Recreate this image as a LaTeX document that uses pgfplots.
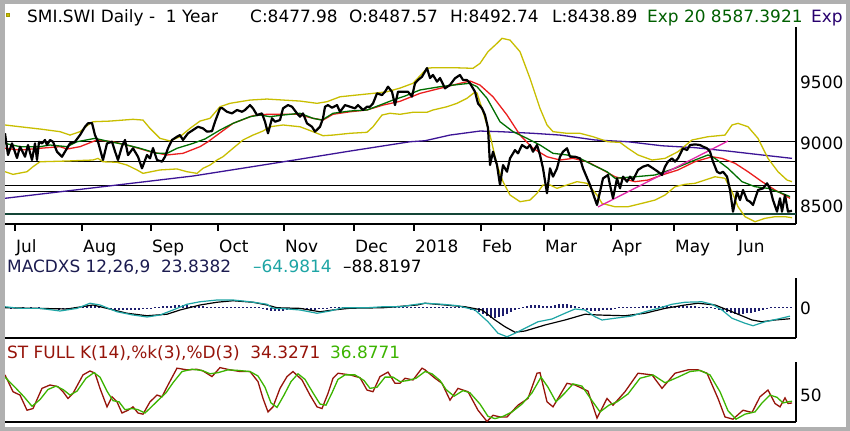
\documentclass[border=0pt]{standalone}
\usepackage{fontspec}
\setmainfont{DejaVu Sans}
\usepackage{pgfplots}
\pgfplotsset{compat=1.18}
\definecolor{framegray}{RGB}{176,176,176}
\definecolor{emagreen}{RGB}{0,110,0}
\definecolor{redma}{RGB}{235,30,30}
\definecolor{boll}{RGB}{200,190,0}
\definecolor{maline}{RGB}{60,20,150}
\definecolor{trendc}{RGB}{225,40,170}
\definecolor{hlinedark}{RGB}{20,70,55}
\definecolor{macdteal}{RGB}{30,165,165}
\definecolor{barcol}{RGB}{30,30,110}
\definecolor{kred}{RGB}{150,20,10}
\definecolor{dgreen}{RGB}{60,180,0}
\definecolor{navytxt}{RGB}{28,28,80}
\definecolor{exptxt}{RGB}{0,95,0}
\definecolor{exp2txt}{RGB}{40,0,110}
\pgfplotsset{panel/.style={anchor=south west, scale only axis, width=791bp, xmin=5, xmax=796,
  axis x line*=bottom, axis y line*=right, axis line style={line width=1.8bp,-},
  ytick=\empty, clip=true}}
\begin{document}
\begin{tikzpicture}[font=\fontsize{17}{20}\selectfont]
\fill[framegray] (0,0) rectangle (850bp,431bp);
\fill[white] (5bp,4bp) rectangle (846bp,427bp);
% ---------------- main price panel
\begin{axis}[panel, at={(5bp,207bp)}, height=197bp, ymin=8373, ymax=9937,
  xtick={15,82,151,218,284,354,414,481,544,611,674,737}, xticklabels={},
  tick align=outside, major tick length=7bp, xtick style={line width=1.6bp,black}]
\addplot[black, line width=0.9bp] coordinates {(5,9026) (796,9026)};
\addplot[black, line width=0.9bp] coordinates {(5,8873) (796,8873)};
\addplot[black, line width=0.9bp] coordinates {(5,8677) (796,8677)};
\addplot[black, line width=0.9bp] coordinates {(5,8630) (796,8630)};
\addplot[hlinedark, line width=1.8bp] coordinates {(5,8452) (796,8452)};
\addplot[maline, line width=1.3bp] coordinates {(5,8577) (193,8754) (250,8825) (300,8888) (350,8952) (410,9026) (425,9034) (450,9079) (480,9111) (500,9106) (533,9093) (560,9079) (595,9040) (628,9026) (662,8994) (695,8979) (728,8952) (762,8921) (792,8894)};
\addplot[boll, line width=1.3bp] coordinates {(5,9159) (20,9145) (40,9127) (60,9106) (70,9079) (80,9106) (88,9159) (93,9185) (110,9190) (133,9204) (143,9198) (150,9132) (160,9053) (170,9032) (180,9066) (190,9132) (200,9190) (210,9212) (220,9304) (230,9331) (250,9357) (267,9365) (283,9357) (300,9349) (317,9331) (327,9344) (340,9383) (357,9397) (373,9410) (387,9423) (400,9452) (413,9490) (427,9609) (433,9614) (453,9614) (473,9609) (480,9648) (488,9741) (497,9807) (502,9847) (510,9833) (520,9741) (530,9529) (540,9291) (547,9159) (553,9106) (567,9093) (580,9093) (593,9066) (608,9026) (620,9021) (628,8974) (638,8921) (652,8881) (665,8894) (678,8947) (692,9040) (708,9066) (725,9079) (732,9159) (738,9172) (748,9145) (758,9053) (768,8894) (778,8788) (787,8722) (792,8709)};
\addplot[boll, line width=1.3bp] coordinates {(5,8788) (13,8767) (27,8788) (33,8828) (40,8867) (67,8873) (93,8881) (98,8894) (103,8867) (117,8863) (127,8841) (137,8802) (143,8775) (160,8802) (177,8810) (187,8788) (197,8775) (203,8815) (210,8841) (217,8881) (223,8907) (233,8974) (243,9040) (253,9079) (263,9111) (270,9145) (283,9159) (300,9145) (313,9106) (323,9074) (333,9079) (350,9093) (367,9101) (373,9145) (382,9238) (390,9252) (400,9244) (413,9260) (427,9260) (433,9278) (447,9304) (457,9331) (467,9371) (475,9421) (477,9413) (483,9264) (490,9079) (497,8841) (503,8709) (510,8603) (520,8550) (530,8563) (537,8617) (543,8683) (550,8683) (557,8656) (567,8683) (577,8709) (587,8696) (597,8603) (602,8537) (608,8524) (615,8510) (628,8510) (642,8537) (655,8563) (665,8603) (675,8669) (685,8688) (695,8696) (705,8722) (715,8748) (725,8736) (732,8629) (738,8510) (745,8431) (755,8391) (765,8418) (775,8431) (785,8431) (792,8423)};
\addplot[redma, line width=1.3bp] coordinates {(5,8974) (20,8960) (40,8974) (60,8987) (67,8968) (80,8987) (97,9040) (113,9026) (133,8987) (150,8947) (167,8921) (183,8934) (200,8987) (208,9026) (217,9079) (233,9172) (253,9233) (267,9244) (297,9244) (313,9212) (323,9198) (333,9244) (350,9264) (367,9278) (383,9317) (400,9347) (420,9410) (440,9450) (460,9490) (470,9508) (480,9476) (493,9383) (507,9238) (520,9079) (533,8974) (547,8907) (560,8881) (573,8894) (587,8868) (600,8815) (615,8748) (635,8709) (648,8722) (662,8762) (678,8802) (695,8868) (712,8907) (722,8894) (735,8855) (748,8788) (762,8709) (775,8643) (790,8577)};
\addplot[emagreen, line width=1.3bp] coordinates {(5,9013) (20,8987) (40,8987) (50,9000) (67,8987) (77,9026) (95,9053) (110,9026) (127,9000) (140,8974) (157,8934) (167,8934) (177,8974) (193,9013) (205,9048) (220,9119) (233,9172) (250,9225) (260,9238) (270,9225) (283,9238) (300,9252) (313,9212) (322,9198) (333,9252) (350,9270) (367,9278) (380,9317) (393,9357) (405,9389) (420,9437) (440,9463) (460,9482) (470,9490) (477,9463) (487,9371) (500,9185) (513,9106) (527,9053) (540,9000) (553,8934) (567,8921) (580,8894) (593,8841) (607,8788) (615,8736) (635,8748) (655,8762) (675,8815) (695,8881) (708,8921) (715,8894) (728,8815) (742,8709) (755,8669) (768,8656) (782,8617) (790,8590)};
\addplot[trendc, line width=1.3bp] coordinates {(598,8508) (728,9032)};
\addplot[black, line width=2.2bp, line join=round] coordinates {(5,9093) (8,8921) (12,9013) (17,8897) (20,8987) (25,8907) (28,9000) (32,8881) (35,9013) (37,8881) (39,9026) (42,9013) (45,9040) (47,9000) (50,9040) (53,9026) (57,8947) (62,8907) (67,8974) (70,9013) (75,9026) (80,9079) (85,9145) (88,9172) (92,9175) (95,9079) (98,9026) (103,8881) (107,9013) (112,9026) (115,8950) (118,8881) (122,8990) (125,9040) (128,8920) (133,8974) (138,8907) (142,8815) (147,8921) (150,8894) (153,8976) (157,8881) (162,8868) (165,8907) (168,8974) (172,9040) (177,9066) (180,9079) (183,9040) (188,9093) (193,9119) (198,9145) (203,9132) (207,9106) (212,9110) (215,9185) (220,9291) (222,9294) (227,9264) (232,9251) (237,9278) (242,9264) (245,9278) (250,9317) (253,9291) (257,9238) (262,9251) (265,9185) (268,9093) (272,9212) (275,9185) (280,9198) (283,9291) (288,9317) (292,9304) (297,9251) (300,9225) (303,9251) (307,9172) (312,9145) (315,9106) (320,9145) (323,9212) (325,9304) (328,9317) (332,9296) (337,9317) (340,9264) (345,9317) (350,9304) (355,9291) (358,9317) (363,9278) (367,9304) (370,9304) (373,9330) (377,9410) (382,9397) (385,9423) (388,9463) (392,9423) (395,9317) (398,9423) (403,9423) (408,9423) (412,9384) (415,9490) (418,9516) (422,9542) (427,9611) (430,9532) (433,9556) (437,9503) (440,9532) (445,9450) (450,9477) (455,9530) (460,9556) (463,9516) (467,9516) (470,9490) (475,9423) (478,9330) (482,9291) (485,9238) (488,9135) (490,8841) (493,8947) (497,8841) (500,8683) (503,8841) (507,8788) (510,8894) (515,8960) (518,8934) (522,9000) (527,8974) (530,9000) (533,8947) (537,9000) (540,8921) (543,8815) (547,8617) (550,8815) (553,8749) (557,8815) (560,8907) (563,8947) (567,8974) (570,8907) (575,8907) (580,8894) (583,8815) (590,8683) (597,8524) (603,8735) (608,8762) (610,8683) (613,8577) (617,8735) (620,8656) (623,8749) (627,8709) (630,8749) (633,8722) (638,8802) (643,8828) (648,8841) (653,8815) (658,8788) (662,8762) (665,8828) (668,8868) (672,8894) (675,8868) (678,8894) (683,8974) (687,8960) (690,9000) (695,9005) (700,9000) (703,8987) (707,8974) (710,8947) (713,8868) (717,8788) (720,8775) (723,8788) (727,8749) (730,8643) (733,8471) (737,8630) (740,8563) (743,8643) (747,8563) (750,8550) (753,8524) (758,8643) (763,8656) (767,8696) (770,8656) (773,8563) (777,8471) (780,8577) (782,8471) (785,8603) (788,8471) (792,8478)};
\end{axis}
% ---------------- MACD panel
\begin{axis}[panel, at={(5bp,93bp)}, height=60bp, ymin=-240, ymax=240, xtick=\empty]
\addplot[ycomb, barcol, line width=1.1bp] coordinates {(7,8) (11,-8) (15,8) (19,-8) (23,8) (27,-8) (31,8) (35,-8) (39,8) (43,-8) (47,-8) (51,-8) (55,-8) (59,-16) (63,-8) (67,-8) (71,-8) (75,8) (79,8) (83,16) (87,16) (91,16) (95,16) (99,16) (103,8) (107,-8) (111,-16) (115,-16) (119,-16) (123,-16) (127,-16) (131,-16) (135,-16) (139,-16) (143,-8) (147,-8) (151,-8) (155,8) (159,8) (163,16) (167,16) (171,16) (175,24) (179,24) (183,24) (187,24) (191,16) (195,16) (199,16) (203,16) (207,8) (211,8) (215,8) (219,8) (223,8) (227,8) (231,8) (235,8) (239,8) (243,8) (247,8) (251,8) (255,8) (259,8) (263,-8) (267,-16) (271,-24) (275,-24) (279,-24) (283,-24) (287,-16) (291,-16) (295,-8) (299,-8) (303,-8) (307,-16) (311,-16) (315,-16) (319,-8) (323,-8) (327,-8) (331,8) (335,8) (339,8) (343,8) (347,8) (351,8) (355,8) (359,8) (363,8) (367,8) (371,8) (375,8) (379,8) (383,8) (387,8) (391,8) (395,8) (399,8) (403,8) (407,8) (411,8) (415,8) (419,8) (423,8) (427,8) (431,8) (435,8) (439,8) (443,8) (447,8) (451,8) (455,8) (459,8) (463,8) (467,8) (471,-16) (475,-24) (479,-32) (483,-48) (487,-64) (491,-80) (495,-80) (499,-72) (503,-64) (507,-48) (511,-32) (515,-16) (519,-8) (523,8) (527,16) (531,24) (535,24) (539,24) (543,16) (547,16) (551,16) (555,24) (559,32) (563,32) (567,32) (571,24) (575,16) (579,8) (583,-8) (587,-16) (591,-24) (595,-24) (599,-24) (603,-16) (607,-16) (611,-16) (615,-8) (619,8) (623,8) (627,8) (631,8) (635,8) (639,8) (643,16) (647,16) (651,16) (655,16) (659,16) (663,16) (667,16) (671,16) (675,16) (679,16) (683,16) (687,16) (691,16) (695,16) (699,8) (703,8) (707,8) (711,8) (715,-8) (719,-16) (723,-24) (727,-32) (731,-40) (735,-48) (739,-48) (743,-48) (747,-40) (751,-40) (755,-32) (759,-24) (763,-16) (767,-8) (771,8) (775,8) (779,8) (783,8) (787,8) (791,8)};
\addplot[black, line width=1.2bp] coordinates {(5,2) (33,-2) (67,-8) (93,24) (107,-3) (127,-42) (147,-62) (167,-50) (180,-16) (200,24) (217,46) (233,58) (253,46) (267,24) (277,2) (300,-3) (320,-30) (333,-16) (350,-2) (383,2) (417,24) (425,38) (445,24) (465,10) (482,-16) (495,-96) (505,-150) (515,-194) (525,-184) (545,-136) (565,-96) (585,-50) (598,-56) (625,-62) (645,-42) (665,-3) (685,24) (698,38) (715,24) (732,-30) (752,-96) (762,-110) (775,-96) (790,-86)};
\addplot[macdteal, line width=1.2bp] coordinates {(5,10) (20,-3) (40,-3) (60,-24) (77,-3) (90,38) (100,24) (117,-30) (133,-56) (147,-72) (160,-56) (173,-16) (187,30) (200,50) (217,64) (233,64) (250,50) (267,30) (273,-3) (283,-5) (300,-16) (317,-42) (330,-24) (343,2) (367,2) (383,10) (400,10) (417,30) (425,38) (442,30) (458,18) (475,-16) (488,-110) (498,-202) (507,-230) (515,-202) (525,-162) (538,-110) (552,-88) (565,-42) (575,-8) (585,-16) (595,-70) (602,-96) (615,-82) (632,-64) (645,-30) (658,-3) (672,30) (685,46) (702,50) (712,30) (722,-16) (732,-82) (745,-122) (753,-142) (765,-110) (778,-88) (790,-65)};
\end{axis}
% ---------------- Stochastic panel
\begin{axis}[panel, at={(5bp,9bp)}, height=60bp, ymin=0, ymax=107, xtick=\empty]
\addplot[kred, line width=1.3bp] coordinates {(5,84) (13,54) (20,48) (27,21) (33,24) (42,60) (50,66) (58,63) (63,54) (68,42) (73,51) (83,84) (90,91) (95,87) (100,60) (107,27) (112,45) (117,36) (122,16) (128,21) (133,27) (138,16) (143,14) (150,36) (157,48) (162,45) (168,66) (177,96) (187,93) (197,94) (203,91) (212,81) (220,97) (230,93) (240,90) (250,90) (258,72) (263,42) (268,18) (273,27) (280,60) (287,81) (293,90) (302,75) (310,48) (317,27) (322,24) (328,51) (333,78) (338,87) (350,84) (360,79) (367,57) (373,54) (380,81) (388,89) (395,69) (400,69) (405,78) (413,75) (422,96) (425,93) (435,78) (442,69) (450,39) (458,60) (468,54) (478,21) (487,1) (493,12) (500,9) (507,9) (518,30) (528,42) (537,87) (540,88) (547,36) (553,27) (567,69) (575,66) (588,55) (597,7) (607,42) (613,30) (625,54) (638,87) (652,84) (662,60) (675,87) (688,93) (698,93) (707,87) (718,42) (725,9) (733,5) (743,21) (752,17) (760,45) (768,57) (775,33) (780,27) (785,43) (788,33) (792,34)};
\addplot[dgreen, line width=1.3bp] coordinates {(5,80) (15,62) (24,45) (32,28) (40,40) (48,58) (56,64) (63,58) (70,48) (77,55) (86,78) (94,88) (100,80) (107,55) (113,38) (119,36) (125,22) (132,24) (138,22) (145,16) (152,28) (160,42) (166,52) (173,70) (182,90) (192,94) (202,92) (210,86) (218,88) (228,93) (238,92) (250,90) (258,82) (265,62) (271,34) (277,26) (284,48) (291,72) (298,86) (305,76) (313,52) (320,32) (326,30) (332,52) (338,76) (345,84) (355,84) (364,74) (370,60) (377,62) (385,80) (393,80) (400,72) (408,74) (416,78) (425,90) (432,86) (440,74) (446,58) (454,46) (463,56) (470,52) (480,32) (488,10) (495,6) (503,10) (512,18) (522,32) (532,52) (541,80) (548,62) (556,36) (565,52) (573,68) (582,64) (592,38) (600,18) (609,30) (617,36) (628,50) (640,78) (653,84) (665,70) (678,80) (690,90) (700,92) (710,84) (720,54) (728,20) (736,5) (745,14) (755,18) (762,34) (770,48) (777,44) (783,34) (788,36) (792,37)};
\end{axis}
% ---------------- texts
\begin{scope}[every node/.style={inner sep=0pt, anchor=base west}]
\fill[boll!80!black] (6bp,414bp) rectangle (10bp,418bp);
\fill[boll] (7bp,415bp) rectangle (9bp,417bp);
\node at (27bp,408bp) {SMI.SWI Daily -\ \ 1 Year};
\node at (250bp,408bp) {C:8477.98};
\node at (349bp,408bp) {O:8487.57};
\node at (450bp,408bp) {H:8492.74};
\node at (552bp,408bp) {L:8438.89};
\node[text=exptxt] at (647bp,408bp) {Exp 20 8587.3921};
\node[text=exp2txt] at (811bp,408bp) {Exp};
\node at (800bp,342bp) {9500};
\node at (800bp,281bp) {9000};
\node at (800bp,218bp) {8500};
\node at (16bp,178bp) {Jul};
\node at (83bp,178bp) {Aug};
\node at (152bp,178bp) {Sep};
\node at (219bp,178bp) {Oct};
\node at (285bp,178bp) {Nov};
\node at (355bp,178bp) {Dec};
\node at (415bp,178bp) {2018};
\node at (482bp,178bp) {Feb};
\node at (545bp,178bp) {Mar};
\node at (612bp,178bp) {Apr};
\node at (675bp,178bp) {May};
\node at (738bp,178bp) {Jun};
\node[text=navytxt] at (7bp,158bp) {MACDXS 12,26,9\ \ 23.8382};
\node[text=macdteal] at (253bp,158bp) {–64.9814};
\node at (343bp,158bp) {–88.8197};
\node at (800bp,116bp) {0};
\node[text=kred] at (7bp,72bp) {ST FULL K(14),\%k(3),\%D(3)\ \ 34.3271};
\node[text=dgreen] at (330bp,72bp) {36.8771};
\node at (800bp,30bp) {50};
\end{scope}
\pgfresetboundingbox
\useasboundingbox (0,0) rectangle (850bp,431bp);
\end{tikzpicture}
\end{document}
